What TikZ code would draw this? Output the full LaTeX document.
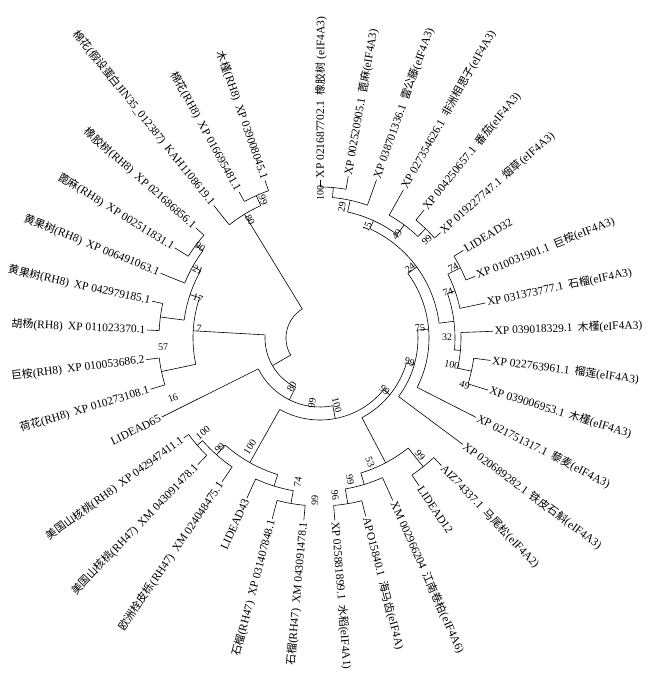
\documentclass[tikz,border=0pt]{standalone}
\usepackage{fontspec}
\setmainfont{Liberation Serif}
\newfontfamily\cjk[Scale=0.95]{Noto Sans CJK SC}
\newcommand{\zh}[1]{{\cjk #1}}
\newcommand{\lblgap}{\hspace{0.45em}}

% clade: name, angle, radius, parent radius, first child angle, last child angle
\newcommand{\clade}[6]{%
  \coordinate (#1) at (#2:#3);
  \draw (#2:#4) -- (#1);
  \draw (#5:#3) arc[start angle=#5, end angle=#6, radius=#3pt];}
% leaves: name, angle, parent radius, tip radius, text
\newcommand{\rleaf}[5]{%
  \coordinate (#1) at (#2:#4);
  \draw (#2:#3) -- (#1);
  \node[leaf, anchor=west, rotate=#2] (lab#1) at (#1) {#5};}
\newcommand{\lleaf}[5]{%
  \coordinate (#1) at (#2:#4);
  \draw (#2:#3) -- (#1);
  \node[leaf, anchor=east, rotate=#2+180] (lab#1) at (#1) {#5};}
% bootstrap values
\newcommand{\bsr}[3]{\node[bs, rotate=#1] at (#1:#2) {#3};}
\newcommand{\bsl}[3]{\node[bs, rotate=#1+180] at (#1:#2) {#3};}

\begin{document}
\begin{tikzpicture}[x=1pt, y=1pt, line width=0.6pt,
  leaf/.style={inner sep=1.5pt, font=\fontsize{11.5}{13}\selectfont},
  bs/.style={inner sep=0pt, font=\fontsize{10}{11}\selectfont}]
\useasboundingbox (-320,-335) rectangle (330,338);

\draw (-149.8:34) arc[start angle=-149.8, end angle=-238.59, radius=34pt];
\clade{x1}{-149.8}{55}{34}{-116.355}{-183.25}
\clade{x2}{-116.355}{69}{55}{-79.26}{-153.45}
\clade{x3}{-79.26}{82}{69}{-39.12}{-119.4}
\clade{nr}{-39.12}{90}{82}{-16.015}{-62.23}
\clade{n99}{-16.015}{98}{90}{4.66}{-36.69}
\clade{n75}{4.66}{109}{98}{36.285}{-26.96}
\clade{n24}{36.285}{120}{109}{65.475}{7.095}
\clade{n15}{65.475}{129}{120}{77.64}{53.31}
\clade{n123}{77.64}{141}{129}{84.935}{70.34}
\clade{n12}{84.935}{151}{141}{89.8}{80.07}
\clade{n456}{53.31}{141}{129}{60.61}{46.015}
\clade{n56}{46.015}{152}{141}{50.88}{41.15}
\clade{n32}{7.095}{135}{120}{19.26}{-5.07}
\clade{n789}{19.26}{143}{135}{26.555}{11.96}
\clade{n78}{26.555}{157}{143}{31.42}{21.69}
\clade{n1012}{-5.07}{141}{135}{2.23}{-12.365}
\clade{n1112}{-12.365}{155}{141}{-7.5}{-17.23}
\clade{n53}{-62.23}{141}{90}{-51.285}{-73.18}
\clade{n1516}{-51.285}{165}{141}{-46.42}{-56.15}
\clade{n1719}{-73.18}{153}{141}{-65.88}{-80.475}
\clade{n1819}{-80.475}{168}{153}{-75.61}{-85.34}
\clade{nrh}{-119.4}{143}{82}{-107.23}{-131.56}
\clade{n2022}{-107.23}{155}{143}{-99.935}{-114.53}
\clade{n2021}{-99.935}{168}{155}{-95.07}{-104.8}
\clade{n2325}{-131.56}{156}{143}{-124.26}{-138.855}
\clade{n2425}{-138.855}{163}{156}{-133.99}{-143.72}
\clade{n7}{-183.25}{127}{55}{-168.045}{-198.45}
\clade{n2728}{-168.045}{162}{127}{-163.18}{-172.91}
\clade{n17}{-198.45}{137}{127}{-187.505}{-209.4}
\clade{n2930}{-187.505}{161}{137}{-182.64}{-192.37}
\clade{n31}{-209.4}{146}{137}{-202.1}{-216.695}
\clade{n3233}{-216.695}{155}{146}{-211.83}{-221.56}
\clade{nrb}{-238.59}{145}{34}{-231.29}{-245.885}
\clade{n3536}{-245.885}{156}{145}{-241.02}{-250.75}

\rleaf{t1}{89.8}{151}{158}{XP 021687702.1\lblgap\zh{橡胶树} (eIF4A3)}
\rleaf{t2}{80.07}{151}{164}{XP 002520905.1\lblgap\zh{蓖麻}(eIF4A3)}
\rleaf{t3}{70.34}{141}{168}{XP 038701336.1\lblgap\zh{雷公藤}(eIF4A3)}
\rleaf{t4}{60.61}{141}{170}{XP 027354626.1\lblgap\zh{非洲相思子}(eIF4A3)}
\rleaf{t5}{50.88}{152}{165}{XP 004250657.1\lblgap\zh{番茄}(eIF4A3)}
\rleaf{t6}{41.15}{152}{160}{XP 019227747.1\lblgap\zh{烟草}(eIF4A3)}
\rleaf{t7}{31.42}{157}{168}{LIDEAD32}
\rleaf{t8}{21.69}{157}{167}{XP 010031901.1\lblgap\zh{巨桉}(eIF4A3)}
\rleaf{t9}{11.96}{143}{169}{XP 031373777.1\lblgap\zh{石榴}(eIF4A3)}
\rleaf{t10}{2.23}{141}{173}{XP 039018329.1\lblgap\zh{木槿}(eIF4A3)}
\rleaf{t11}{-7.5}{155}{172}{XP 022763961.1\lblgap\zh{榴莲}(eIF4A3)}
\rleaf{t12}{-17.23}{155}{176}{XP 039006953.1\lblgap\zh{木槿}(eIF4A3)}
\rleaf{t13}{-26.96}{109}{175}{XP 021751317.1\lblgap\zh{藜麦}(eIF4A3)}
\rleaf{t14}{-36.69}{98}{178}{XP 020689282.1\lblgap\zh{铁皮石斛}(eIF4A3)}
\rleaf{t15}{-46.42}{165}{176}{AIZ74337.1\lblgap\zh{马尾松}(eIF4A2)}
\rleaf{t16}{-56.15}{165}{178}{LIDEAD12}
\rleaf{t17}{-65.88}{153}{178}{XM 002966204\lblgap\zh{江南卷柏}(eIF4A6)}
\rleaf{t18}{-75.61}{168}{184}{APO15840.1\lblgap\zh{海马齿}(eIF4A)}
\rleaf{t19}{-85.34}{168}{183}{XP 025881899.1\lblgap\zh{水稻}(eIF4A1)}
\lleaf{t20}{-95.07}{168}{183}{\zh{石榴}(RH47)\lblgap XM 043091478.1}
\lleaf{t21}{-104.8}{168}{187}{\zh{石榴}(RH47)\lblgap XP 031407848.1}
\lleaf{t22}{-114.53}{155}{176}{LIDEAD43}
\lleaf{t23}{-124.26}{156}{174}{\zh{欧洲栓皮栎}(RH47)\lblgap XM 024048475.1}
\lleaf{t24}{-133.99}{163}{176}{\zh{美国山核桃}(RH47)\lblgap XM 043091478.1}
\lleaf{t25}{-143.72}{163}{169}{\zh{美国山核桃}(RH8)\lblgap XP 042947411.1}
\lleaf{t26}{-153.45}{69}{177}{LIDEAD65}
\lleaf{t27}{-163.18}{162}{177}{\zh{荷花}(RH8)\lblgap XP 010273108.1}
\lleaf{t28}{-172.91}{162}{175}{\zh{巨桉}(RH8)\lblgap XP 010053686.2}
\lleaf{t29}{-182.64}{161}{173}{\zh{胡杨}(RH8)\lblgap XP 011023370.1}
\lleaf{t30}{-192.37}{161}{172}{\zh{黄果树}(RH8)\lblgap XP 042979185.1}
\lleaf{t31}{-202.1}{146}{172}{\zh{黄果树}(RH8)\lblgap XP 006491063.1}
\lleaf{t32}{-211.83}{155}{171}{\zh{蓖麻}(RH8)\lblgap XP 002511831.1}
\lleaf{t33}{-221.56}{155}{166}{\zh{橡胶树}(RH8)\lblgap XP 021686856.1}
\lleaf{t34}{-231.29}{145}{170}{\zh{棉花}(\zh{假设蛋白}JIN35\_012387)\lblgap KAH1108619.1}
\lleaf{t35}{-241.02}{156}{167}{\zh{棉花}(RH8)\lblgap XP 016695481.1}
\lleaf{t36}{-250.75}{156}{167}{\zh{木槿}(RH8)\lblgap XP 039008045.1}

\bsr{89.9}{145}{100}
\bsr{80.5}{133}{29}
\bsr{67}{120.5}{15}
\bsr{53.2}{128.6}{49}
\bsr{42.5}{145}{99}
\bsr{37.9}{114}{24}
\bsr{28}{150.8}{74}
\bsr{19.8}{136}{74}
\bsr{0.5}{127}{32}
\bsr{-11.6}{134.7}{100}
\bsr{-18}{152}{49}
\bsr{5.7}{100.5}{75}
\bsr{-15}{93}{99}
\bsr{-38.7}{83}{99}
\bsr{-49.5}{154}{99}
\bsr{-68}{133.7}{53}
\bsr{-78}{145}{99}
\bsr{-84.5}{157.7}{96}
\bsl{-91.8}{162}{99}
\bsl{-98.7}{145.7}{74}
\bsl{-122.7}{129.5}{100}
\bsl{-132.3}{148.7}{99}
\bsl{-141}{150.7}{100}
\bsr{-75.8}{69}{100}
\bsl{-97}{65.5}{99}
\bsl{-120}{56.4}{80}
\bsl{-184.7}{121.4}{7}
\bsl{-198.2}{128.4}{17}
\bsl{-209.1}{139.7}{21}
\bsl{-217.2}{150.6}{90}
\bsl{-176.7}{157}{57}
\bsl{-157.8}{158.8}{16}
\bsl{-239.3}{137}{80}
\bsl{-247.6}{149}{99}
\end{tikzpicture}
\end{document}
